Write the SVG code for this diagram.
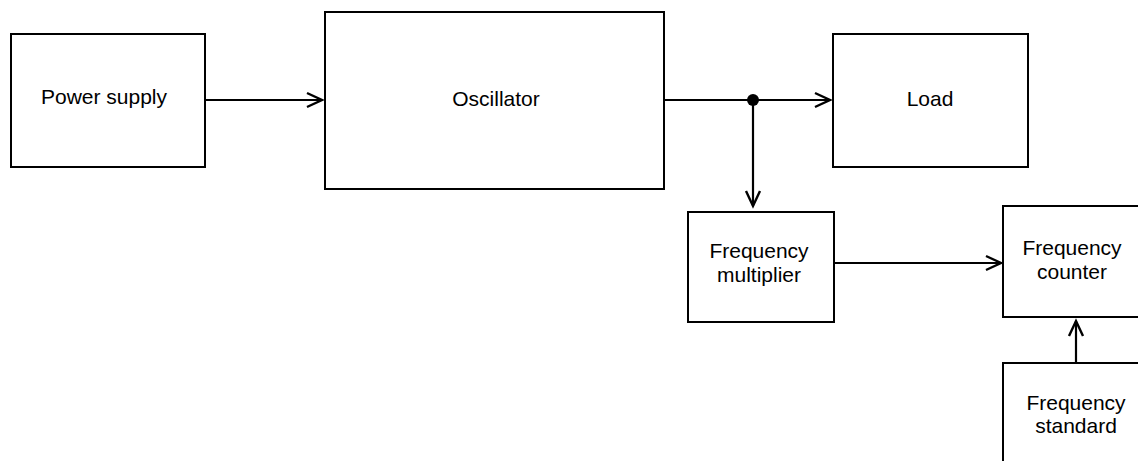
<svg xmlns="http://www.w3.org/2000/svg" width="1138" height="461" viewBox="0 0 1138 461">
<style>
.box{fill:#fff;stroke:#000;stroke-width:2}
.lbl{font-family:"Liberation Sans",Arial,sans-serif;font-size:21px;fill:#000;text-anchor:middle}
.wire{fill:none;stroke:#000;stroke-width:2.2}
</style>
<defs>
<marker id="arr" markerUnits="userSpaceOnUse" markerWidth="20" markerHeight="20" viewBox="-16 -10 20 20" refX="0" refY="0" orient="auto">
<path d="M-15,-7 L0,0 L-15,7" fill="none" stroke="#000" stroke-width="2.4"/>
</marker>
</defs>
<rect width="1138" height="461" fill="#fff"/>
<g id="power-supply"><rect class="box" x="11" y="34" width="194" height="133"/><text class="lbl" x="104" y="104">Power supply</text></g>
<g id="oscillator"><rect class="box" x="325" y="12" width="339" height="177"/><text class="lbl" x="496" y="106">Oscillator</text></g>
<g id="load"><rect class="box" x="833" y="34" width="195" height="133"/><text class="lbl" x="930" y="106">Load</text></g>
<g id="frequency-multiplier"><rect class="box" x="688" y="212" width="146" height="110"/><text class="lbl" x="759" y="258">Frequency</text><text class="lbl" x="759" y="282">multiplier</text></g>
<g id="frequency-counter"><rect class="box" x="1003" y="206" width="140" height="111"/><text class="lbl" x="1072" y="255">Frequency</text><text class="lbl" x="1072" y="279">counter</text></g>
<g id="frequency-standard"><rect class="box" x="1003" y="363" width="148" height="110"/><text class="lbl" x="1076" y="410">Frequency</text><text class="lbl" x="1076" y="433">standard</text></g>
<g id="connectors">
<line class="wire" x1="205" y1="100" x2="322" y2="100" marker-end="url(#arr)"/>
<line class="wire" x1="664" y1="100" x2="830" y2="100" marker-end="url(#arr)"/>
<line class="wire" x1="753" y1="100" x2="753" y2="206" marker-end="url(#arr)"/>
<circle cx="753" cy="100" r="6" fill="#000"/>
<line class="wire" x1="834" y1="263" x2="1001" y2="263" marker-end="url(#arr)"/>
<line class="wire" x1="1076" y1="363" x2="1076" y2="321" marker-end="url(#arr)"/>
</g>
</svg>
